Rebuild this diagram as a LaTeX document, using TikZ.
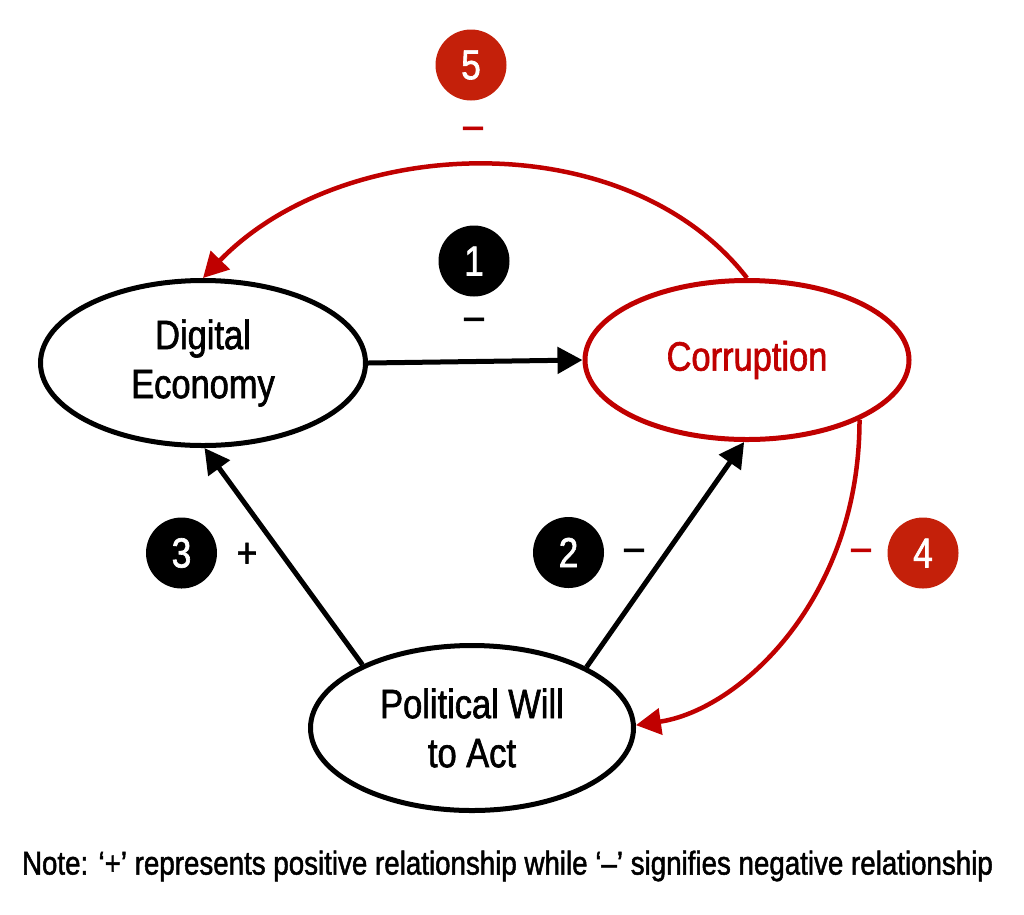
\documentclass[tikz,border=0pt]{standalone}
\usepackage{fontspec}
\setmainfont{Liberation Sans}[FakeStretch=0.84,FakeBold=1.5]
\usetikzlibrary{arrows.meta,shapes.geometric}
\definecolor{lred}{RGB}{192,0,0}
\definecolor{cred}{RGB}{196,32,10}
\begin{document}
\begin{tikzpicture}[x=1pt,y=-1pt,
  bub/.style={ellipse,draw=black,line width=5pt,inner sep=0pt,align=center,
    font=\fontsize{41}{49}\selectfont},
  num/.style={circle,minimum size=71pt,inner sep=0pt,text=white,
    font=\fontsize{42}{42}\selectfont},
  sgn/.style={inner sep=0pt,font=\fontsize{42}{42}\selectfont},
  blk/.style={line width=5pt,draw=black,-{Triangle[length=25pt,width=26pt]}},
  rd/.style={line width=4.5pt,draw=lred,-{Triangle[length=25pt,width=26pt]}}
]
\useasboundingbox[fill=white] (0,0) rectangle (1024,914);
\node[bub,minimum width=325pt,minimum height=165pt] (de) at (203,363) {Digital\\Economy};
\node[bub,draw=lred,text=lred,minimum width=324pt,minimum height=159pt] (co) at (747,360) {Corruption};
\node[bub,minimum width=323pt,minimum height=165pt] (pw) at (472,728) {Political Will\\to Act};

\draw[blk] (de.east) -- (co.west);
\draw[blk] (pw.150.5) -- (de.271.5);
\draw[blk] (pw.28.5) -- (co.268.6);
\draw[rd] (co.north) .. controls +(-120,-155) and +(140,-145) .. (de.north);
\draw[rd] (co.-28) .. controls +(0,180) and +(103,-15) .. (pw.1);

\node[num,fill=cred] (n5) at (471,65) {5};
\node[sgn,text=lred] (s5) at (473,133) {–};
\node[num,fill=black] (n1) at (474,261) {1};
\node[sgn] (s1) at (474,324) {–};
\node[num,fill=black] (n3) at (181.5,553) {3};
\node[sgn] (s3) at (247,555) {+};
\node[num,fill=black] (n2) at (568.5,552.5) {2};
\node[sgn] (s2) at (634,555) {–};
\node[num,fill=cred] (n4) at (923,553) {4};
\node[sgn,text=lred] (s4) at (861,555) {–};

\node[inner sep=0pt,font=\fontsize{33}{33}\selectfont] (note) at (507.5,866)
  {Note: ‘+’ represents positive relationship while ‘–’ signifies negative relationship};
\end{tikzpicture}
\end{document}
